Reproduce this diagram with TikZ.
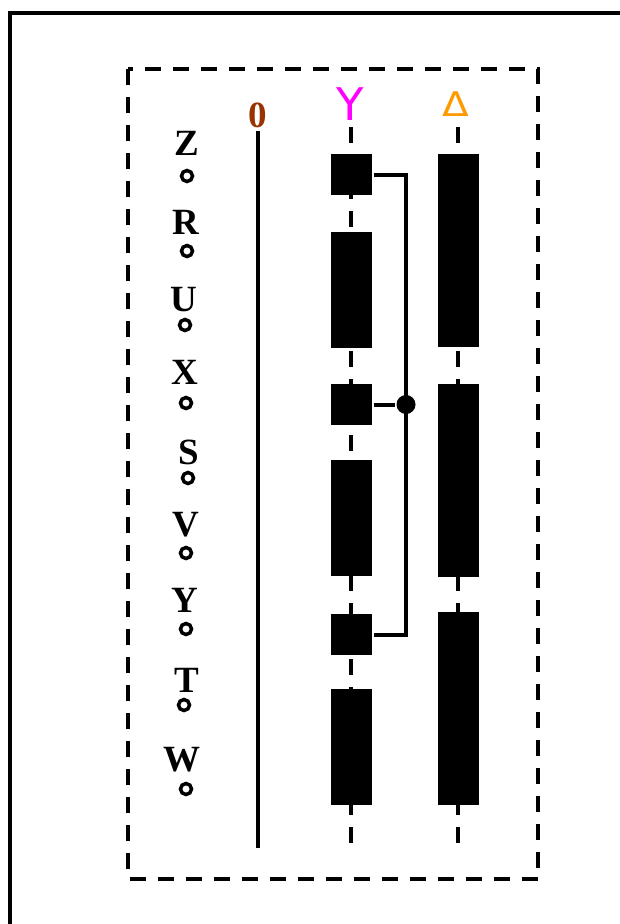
\documentclass[tikz,border=0pt]{standalone}
\usepackage{fontspec}
\setmainfont{Liberation Serif}
\newfontfamily\symfont{DejaVu Sans}
\usetikzlibrary{positioning,calc}
\definecolor{rust}{RGB}{153,51,0}
\definecolor{ymagenta}{RGB}{255,0,255}
\definecolor{deltaorange}{RGB}{255,153,0}

\begin{document}
\begin{tikzpicture}[
  x=1pt, y=-1pt,
  line width=4pt,
  lbl/.style={font=\fontsize{37}{40}\selectfont\bfseries, inner sep=0pt},
  sym/.style={font=\symfont\fontsize{45}{48}\selectfont, inner sep=0pt},
  pin/.style={circle, draw, line width=3.5pt, minimum size=11pt, inner sep=0pt},
  blk/.style={fill=black, draw=none, minimum width=41pt, inner sep=0pt},
  sbox/.style={blk, minimum height=41pt},
  lbox/.style={blk, minimum height=116pt},
  tbox/.style={blk, minimum height=193pt},
  track/.style={dash pattern=on 16pt off 12pt},
  dot/.style={circle, fill=black, minimum size=19pt, inner sep=0pt}
]
  % Page and outer frame (runs off the page)
  \useasboundingbox (0,0) rectangle (620,924);
  \clip (0,0) rectangle (620,924);
  \draw (9.5,12.5) rectangle (660,960);

  % Dashed enclosure
  \draw[track] (127.5,69) rectangle (538,879);

  % Left labels with pins
  \foreach \t/\lx/\ly/\px/\py in {Z/187/143/187/176, R/186/222/187/251,
      U/184/300/185/325, X/185/372/186/403, S/189/452/188/478,
      V/186/525/186/553, Y/185/600/186/629, T/187/680/184/705,
      W/182/760/186/789}{
    \node[lbl] (l\t) at (\lx,\ly) {\t};
    \node[pin] (p\t) at (\px,\py) {};
  }

  % Reference line 0
  \node[lbl, text=rust] (zero) at (258,115) {0};
  \coordinate (zeroend) at (258,848);
  \draw (zero.south) ++(0,2) coordinate (zerotop) -- (zeroend);

  % Column Y
  \node[sym, text=ymagenta] (ylab) at (350,104) {Y};
  \coordinate (ytop) at (351,127);
  \coordinate (ybot) at (351,843);
  \draw[track] (ytop) -- (ybot);
  \foreach \n/\c/\s in {1/174.5/sbox, 2/290/lbox, 3/404.5/sbox,
      4/518/lbox, 5/634.5/sbox, 6/746.5/lbox}{
    \node[\s] (y\n) at (351,\c) {};
  }

  % Column Delta
  \node[sym, text=deltaorange, font=\symfont\fontsize{34}{36}\selectfont, xscale=1.15] (dlab) at (456,104) {Δ};
  \coordinate (dtop) at (458,127);
  \coordinate (dbot) at (458,843);
  \draw[track] (dtop) -- (dbot);
  \foreach \n/\c in {1/250.5, 2/480, 3/708.5}{
    \node[tbox] (d\n) at (458,\c) {};
  }

  % Link between the short Y blocks
  \node[dot] (jn) at (406,404.5) {};
  \draw (y1.east) -| (jn.center) |- (y5.east);
  \draw (y3.east) -- (jn);
\end{tikzpicture}
\end{document}
